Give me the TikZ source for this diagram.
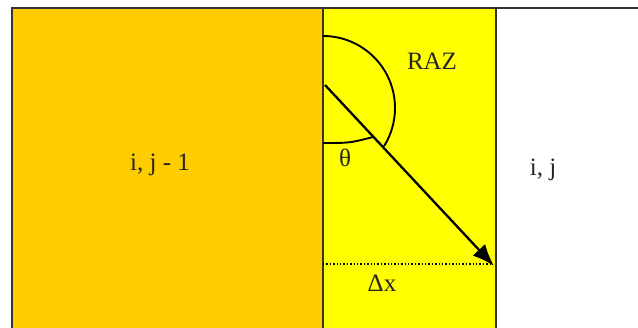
\documentclass[tikz,border=0pt]{standalone}
\usepackage{fontspec}
\setmainfont{Liberation Serif}
\usetikzlibrary{arrows.meta}
\definecolor{cellorange}{HTML}{FFCC00}
\definecolor{cellyellow}{HTML}{FFFF00}
\definecolor{edgegray}{HTML}{333333}
\tikzset{
  celltext/.style={font=\fontsize{25}{28}\selectfont, text=black!85, inner sep=0pt},
  edge/.style={draw=edgegray, line width=1.5pt},
  ray/.style={draw=black, line width=2.3pt, -{Latex[length=22pt,width=17pt]}},
  anglearc/.style={draw=black, line width=1.9pt}
}
\begin{document}
\begin{tikzpicture}[x=1pt,y=1pt]
\useasboundingbox (0,0) rectangle (638,328);
\fill[white] (0,0) rectangle (638,328);
% cells
\fill[cellorange] (12,0) rectangle (323,320);
\fill[cellyellow] (323,0) rectangle (496,320);
\draw[edge] (12,0) -- (12,320) -- (638,320);
\draw[edge] (323,0) -- (323,320);
\draw[edge] (496,0) -- (496,320);
% RAZ arc
\draw[anglearc] (323,292) arc[start angle=90, end angle=-32, radius=72];
% ray
\coordinate (start) at (325,243);
\coordinate (tip) at (494,62);
\draw[ray] (start) -- (tip);
% theta arc
\draw[anglearc] (323,185) .. controls (350,185) .. (373,191);
% dotted line
\coordinate (dl) at (323,64);
\coordinate (dr) at (492,64);
\draw[black, line width=1.4pt, dotted] (dl) -- (dr);
% labels
\node[celltext] (left) at (160,163) {i, j - 1};
\node[celltext] (right) at (543,158) {i, j};
\node[celltext] (raz) at (432,267) {RAZ};
\node[celltext] (theta) at (345,170) {θ};
\node[celltext] (dx) at (382,45) {Δx};
\end{tikzpicture}
\end{document}
